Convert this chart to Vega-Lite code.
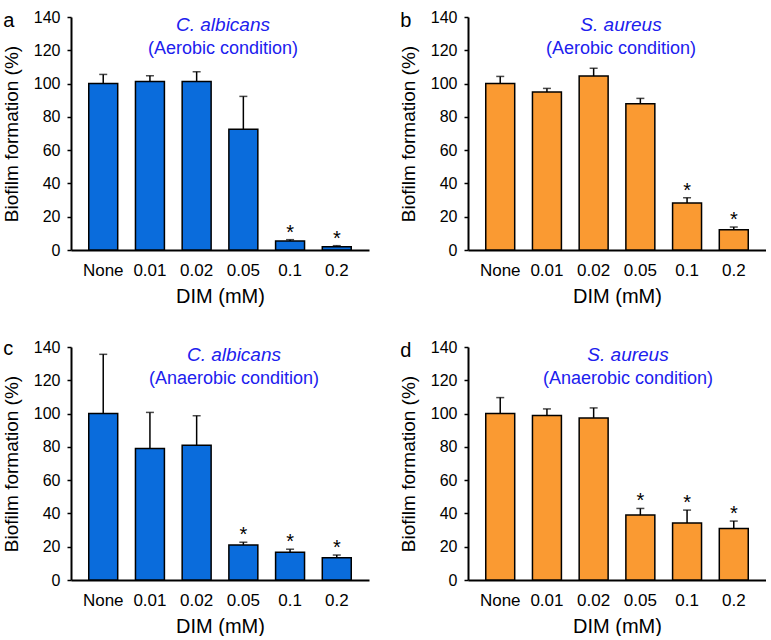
{
  "$schema": "https://vega.github.io/schema/vega-lite/v6.json",
  "padding": {"left": 2, "top": 9, "right": 0, "bottom": 0},
  "spacing": 31,
  "config": {
    "view": {"stroke": null},
    "font": "Liberation Sans",
    "axis": {"domainColor": "black", "domainWidth": 2, "labelColor": "black", "titleColor": "black", "tickColor": "black", "grid": false, "labelFont": "Liberation Sans", "titleFont": "Liberation Sans", "titleFontWeight": "normal"},
    "axisY": {"tickSize": 4, "tickWidth": 1.5, "labelFontSize": 16, "labelPadding": 7, "titleFontSize": 19, "titlePadding": 12, "labelOverlap": false, "tickCount": 8},
    "axisX": {"ticks": false, "labelAngle": 0, "labelFontSize": 17, "labelPadding": 12, "titleFontSize": 20, "titlePadding": 8},
    "title": {"anchor": "start", "frame": "bounds", "fontSize": 20, "fontWeight": "normal", "offset": -22, "dx": 1, "font": "Liberation Sans", "color": "black"}
  },
  "datasets": {
    "a": [
      {"dim": "None", "mean": 100, "hi": 105.5, "sig": ""},
      {"dim": "0.01", "mean": 101.3, "hi": 104.7, "sig": ""},
      {"dim": "0.02", "mean": 101.3, "hi": 107.1, "sig": ""},
      {"dim": "0.05", "mean": 72.5, "hi": 92.3, "sig": ""},
      {"dim": "0.1", "mean": 5.4, "hi": 6.2, "sig": "*"},
      {"dim": "0.2", "mean": 2.0, "hi": 2.6, "sig": "*"}
    ],
    "b": [
      {"dim": "None", "mean": 100, "hi": 104.3, "sig": ""},
      {"dim": "0.01", "mean": 94.9, "hi": 97.1, "sig": ""},
      {"dim": "0.02", "mean": 104.5, "hi": 109.2, "sig": ""},
      {"dim": "0.05", "mean": 87.9, "hi": 91.1, "sig": ""},
      {"dim": "0.1", "mean": 28.2, "hi": 31.4, "sig": "*"},
      {"dim": "0.2", "mean": 12.2, "hi": 13.8, "sig": "*"}
    ],
    "c": [
      {"dim": "None", "mean": 100, "hi": 135.6, "sig": ""},
      {"dim": "0.01", "mean": 79.0, "hi": 100.7, "sig": ""},
      {"dim": "0.02", "mean": 81.0, "hi": 98.7, "sig": ""},
      {"dim": "0.05", "mean": 21.1, "hi": 22.7, "sig": "*"},
      {"dim": "0.1", "mean": 16.6, "hi": 18.5, "sig": "*"},
      {"dim": "0.2", "mean": 13.4, "hi": 15.0, "sig": "*"}
    ],
    "d": [
      {"dim": "None", "mean": 100, "hi": 109.6, "sig": ""},
      {"dim": "0.01", "mean": 98.8, "hi": 102.8, "sig": ""},
      {"dim": "0.02", "mean": 97.4, "hi": 103.4, "sig": ""},
      {"dim": "0.05", "mean": 39.0, "hi": 43.0, "sig": "*"},
      {"dim": "0.1", "mean": 34.2, "hi": 42.0, "sig": "*"},
      {"dim": "0.2", "mean": 31.0, "hi": 35.4, "sig": "*"}
    ],
    "one": [{"k": 1}]
  },
  "vconcat": [
    {
      "spacing": 30,
      "hconcat": [
        {
          "title": {"text": "a"},
          "width": 298, "height": 233,
          "layer": [
            {"data": {"name": "a"}, "mark": {"type": "bar", "fill": "#0a6cdc", "stroke": "black", "strokeWidth": 1.5}, "encoding": {"x": {"field": "dim", "type": "nominal", "sort": ["None", "0.01", "0.02", "0.05", "0.1", "0.2"], "scale": {"paddingInner": 0.38, "paddingOuter": 0.38}, "title": "DIM (mM)"}, "y": {"field": "mean", "type": "quantitative", "scale": {"domain": [0, 140], "nice": false}, "axis": {"values": [0, 20, 40, 60, 80, 100, 120, 140], "tickCount": 8}, "title": "Biofilm formation (%)"}}},
            {"data": {"name": "a"}, "mark": {"type": "rule", "strokeWidth": 1.5, "color": "black"}, "encoding": {"x": {"field": "dim", "type": "nominal", "sort": ["None", "0.01", "0.02", "0.05", "0.1", "0.2"]}, "y": {"field": "mean", "type": "quantitative"}, "y2": {"field": "hi"}}},
            {"data": {"name": "a"}, "mark": {"type": "tick", "orient": "horizontal", "size": 8, "thickness": 1.5, "color": "black"}, "encoding": {"x": {"field": "dim", "type": "nominal", "sort": ["None", "0.01", "0.02", "0.05", "0.1", "0.2"]}, "y": {"field": "hi", "type": "quantitative"}}},
            {"data": {"name": "a"}, "mark": {"type": "text", "fontSize": 20, "baseline": "alphabetic", "dy": -1, "color": "black"}, "encoding": {"x": {"field": "dim", "type": "nominal", "sort": ["None", "0.01", "0.02", "0.05", "0.1", "0.2"]}, "y": {"field": "hi", "type": "quantitative"}, "text": {"field": "sig"}}},
            {"data": {"name": "one"}, "mark": {"type": "text", "fontSize": 19, "fontStyle": "italic", "color": "#2020ee", "baseline": "middle", "dx": 3}, "encoding": {"y": {"datum": 135, "type": "quantitative"}, "text": {"value": "C. albicans"}}},
            {"data": {"name": "one"}, "mark": {"type": "text", "fontSize": 18, "color": "#2020ee", "baseline": "middle", "dx": 3}, "encoding": {"y": {"datum": 121, "type": "quantitative"}, "text": {"value": "(Aerobic condition)"}}}
          ]
        },
        {
          "title": {"text": "b"},
          "width": 298, "height": 233,
          "layer": [
            {"data": {"name": "b"}, "mark": {"type": "bar", "fill": "#fa9a32", "stroke": "black", "strokeWidth": 1.5}, "encoding": {"x": {"field": "dim", "type": "nominal", "sort": ["None", "0.01", "0.02", "0.05", "0.1", "0.2"], "scale": {"paddingInner": 0.38, "paddingOuter": 0.38}, "title": "DIM (mM)"}, "y": {"field": "mean", "type": "quantitative", "scale": {"domain": [0, 140], "nice": false}, "axis": {"values": [0, 20, 40, 60, 80, 100, 120, 140], "tickCount": 8}, "title": "Biofilm formation (%)"}}},
            {"data": {"name": "b"}, "mark": {"type": "rule", "strokeWidth": 1.5, "color": "black"}, "encoding": {"x": {"field": "dim", "type": "nominal", "sort": ["None", "0.01", "0.02", "0.05", "0.1", "0.2"]}, "y": {"field": "mean", "type": "quantitative"}, "y2": {"field": "hi"}}},
            {"data": {"name": "b"}, "mark": {"type": "tick", "orient": "horizontal", "size": 8, "thickness": 1.5, "color": "black"}, "encoding": {"x": {"field": "dim", "type": "nominal", "sort": ["None", "0.01", "0.02", "0.05", "0.1", "0.2"]}, "y": {"field": "hi", "type": "quantitative"}}},
            {"data": {"name": "b"}, "mark": {"type": "text", "fontSize": 20, "baseline": "alphabetic", "dy": -1, "color": "black"}, "encoding": {"x": {"field": "dim", "type": "nominal", "sort": ["None", "0.01", "0.02", "0.05", "0.1", "0.2"]}, "y": {"field": "hi", "type": "quantitative"}, "text": {"field": "sig"}}},
            {"data": {"name": "one"}, "mark": {"type": "text", "fontSize": 19, "fontStyle": "italic", "color": "#2020ee", "baseline": "middle", "dx": 4}, "encoding": {"y": {"datum": 135, "type": "quantitative"}, "text": {"value": "S. aureus"}}},
            {"data": {"name": "one"}, "mark": {"type": "text", "fontSize": 18, "color": "#2020ee", "baseline": "middle", "dx": 4}, "encoding": {"y": {"datum": 121, "type": "quantitative"}, "text": {"value": "(Aerobic condition)"}}}
          ]
        }
      ]
    },
    {
      "spacing": 30,
      "hconcat": [
        {
          "title": {"text": "c"},
          "width": 298, "height": 233,
          "layer": [
            {"data": {"name": "c"}, "mark": {"type": "bar", "fill": "#0a6cdc", "stroke": "black", "strokeWidth": 1.5}, "encoding": {"x": {"field": "dim", "type": "nominal", "sort": ["None", "0.01", "0.02", "0.05", "0.1", "0.2"], "scale": {"paddingInner": 0.38, "paddingOuter": 0.38}, "title": "DIM (mM)"}, "y": {"field": "mean", "type": "quantitative", "scale": {"domain": [0, 140], "nice": false}, "axis": {"values": [0, 20, 40, 60, 80, 100, 120, 140], "tickCount": 8}, "title": "Biofilm formation (%)"}}},
            {"data": {"name": "c"}, "mark": {"type": "rule", "strokeWidth": 1.5, "color": "black"}, "encoding": {"x": {"field": "dim", "type": "nominal", "sort": ["None", "0.01", "0.02", "0.05", "0.1", "0.2"]}, "y": {"field": "mean", "type": "quantitative"}, "y2": {"field": "hi"}}},
            {"data": {"name": "c"}, "mark": {"type": "tick", "orient": "horizontal", "size": 8, "thickness": 1.5, "color": "black"}, "encoding": {"x": {"field": "dim", "type": "nominal", "sort": ["None", "0.01", "0.02", "0.05", "0.1", "0.2"]}, "y": {"field": "hi", "type": "quantitative"}}},
            {"data": {"name": "c"}, "mark": {"type": "text", "fontSize": 20, "baseline": "alphabetic", "dy": -1, "color": "black"}, "encoding": {"x": {"field": "dim", "type": "nominal", "sort": ["None", "0.01", "0.02", "0.05", "0.1", "0.2"]}, "y": {"field": "hi", "type": "quantitative"}, "text": {"field": "sig"}}},
            {"data": {"name": "one"}, "mark": {"type": "text", "fontSize": 19, "fontStyle": "italic", "color": "#2020ee", "baseline": "middle", "dx": 14}, "encoding": {"y": {"datum": 135, "type": "quantitative"}, "text": {"value": "C. albicans"}}},
            {"data": {"name": "one"}, "mark": {"type": "text", "fontSize": 18, "color": "#2020ee", "baseline": "middle", "dx": 14}, "encoding": {"y": {"datum": 121, "type": "quantitative"}, "text": {"value": "(Anaerobic condition)"}}}
          ]
        },
        {
          "title": {"text": "d"},
          "width": 298, "height": 233,
          "layer": [
            {"data": {"name": "d"}, "mark": {"type": "bar", "fill": "#fa9a32", "stroke": "black", "strokeWidth": 1.5}, "encoding": {"x": {"field": "dim", "type": "nominal", "sort": ["None", "0.01", "0.02", "0.05", "0.1", "0.2"], "scale": {"paddingInner": 0.38, "paddingOuter": 0.38}, "title": "DIM (mM)"}, "y": {"field": "mean", "type": "quantitative", "scale": {"domain": [0, 140], "nice": false}, "axis": {"values": [0, 20, 40, 60, 80, 100, 120, 140], "tickCount": 8}, "title": "Biofilm formation (%)"}}},
            {"data": {"name": "d"}, "mark": {"type": "rule", "strokeWidth": 1.5, "color": "black"}, "encoding": {"x": {"field": "dim", "type": "nominal", "sort": ["None", "0.01", "0.02", "0.05", "0.1", "0.2"]}, "y": {"field": "mean", "type": "quantitative"}, "y2": {"field": "hi"}}},
            {"data": {"name": "d"}, "mark": {"type": "tick", "orient": "horizontal", "size": 8, "thickness": 1.5, "color": "black"}, "encoding": {"x": {"field": "dim", "type": "nominal", "sort": ["None", "0.01", "0.02", "0.05", "0.1", "0.2"]}, "y": {"field": "hi", "type": "quantitative"}}},
            {"data": {"name": "d"}, "mark": {"type": "text", "fontSize": 20, "baseline": "alphabetic", "dy": -1, "color": "black"}, "encoding": {"x": {"field": "dim", "type": "nominal", "sort": ["None", "0.01", "0.02", "0.05", "0.1", "0.2"]}, "y": {"field": "hi", "type": "quantitative"}, "text": {"field": "sig"}}},
            {"data": {"name": "one"}, "mark": {"type": "text", "fontSize": 19, "fontStyle": "italic", "color": "#2020ee", "baseline": "middle", "dx": 11}, "encoding": {"y": {"datum": 135, "type": "quantitative"}, "text": {"value": "S. aureus"}}},
            {"data": {"name": "one"}, "mark": {"type": "text", "fontSize": 18, "color": "#2020ee", "baseline": "middle", "dx": 11}, "encoding": {"y": {"datum": 121, "type": "quantitative"}, "text": {"value": "(Anaerobic condition)"}}}
          ]
        }
      ]
    }
  ]
}
